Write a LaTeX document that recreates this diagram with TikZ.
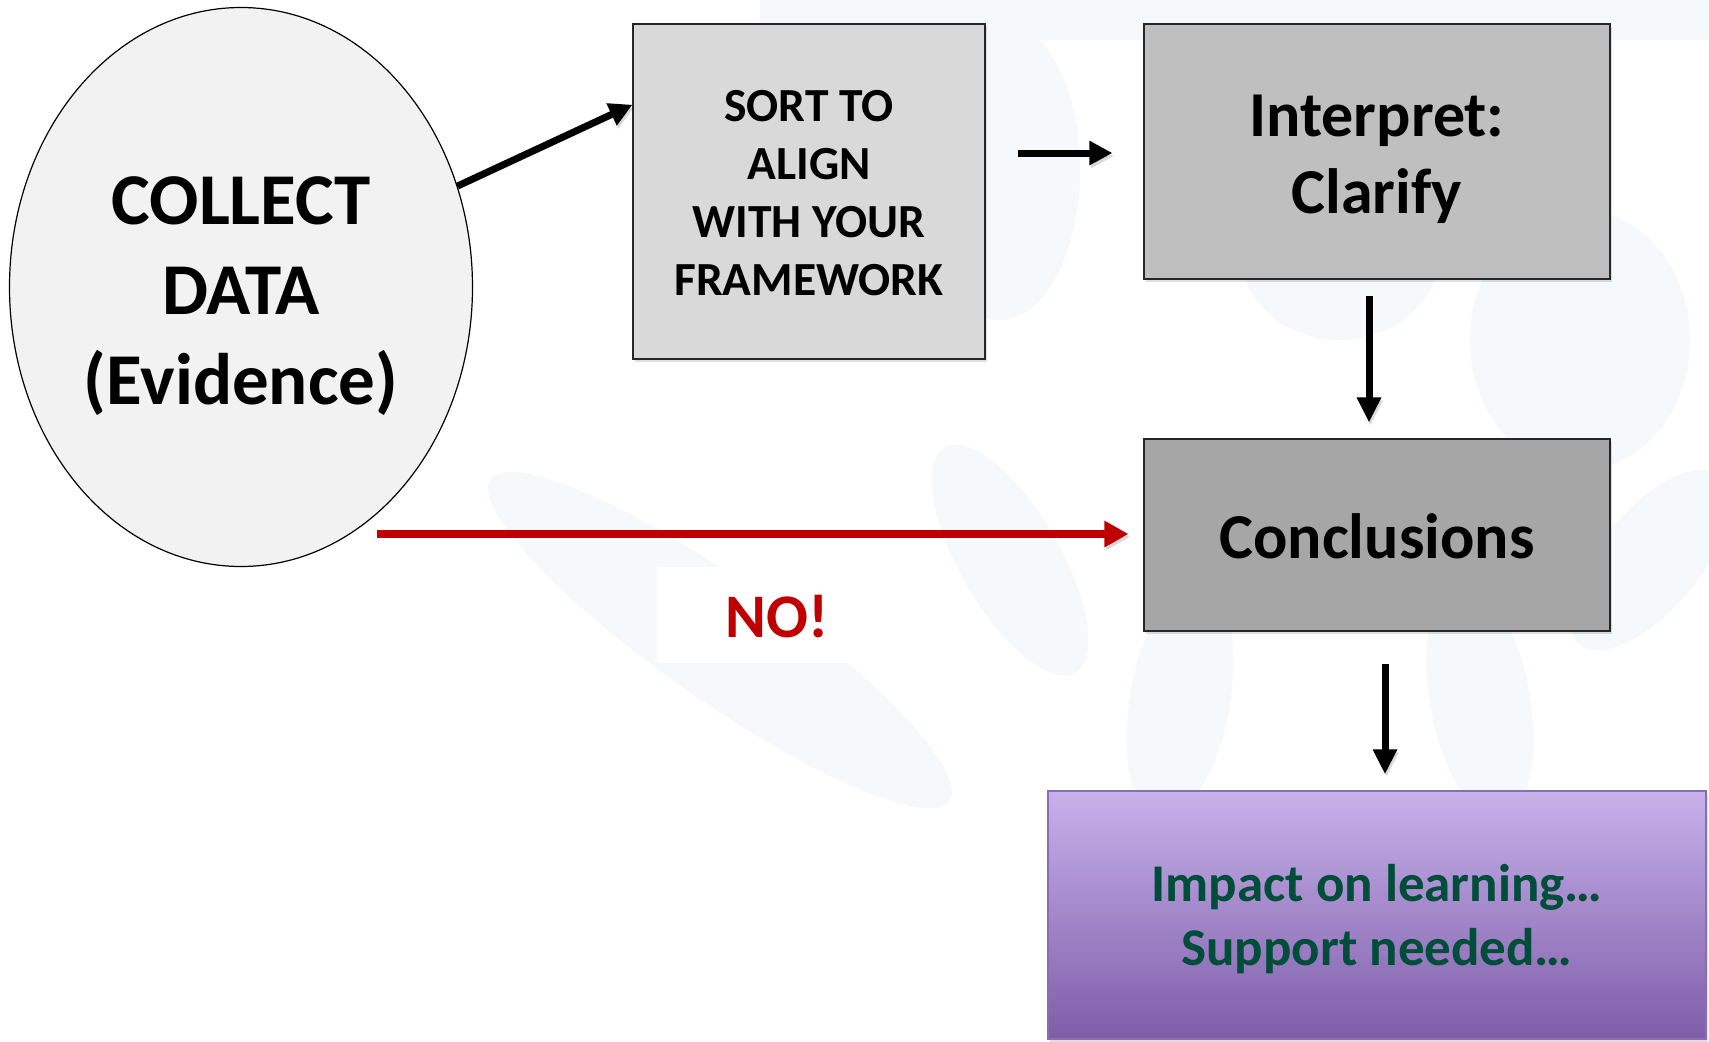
\documentclass[tikz,border=0pt]{standalone}
\usepackage{fontspec}
\setmainfont{Carlito}
\usetikzlibrary{arrows.meta,shapes.geometric,shadows,calc}
\definecolor{wm}{HTML}{F5F9FC}
\definecolor{ellfill}{HTML}{F2F2F2}
\definecolor{sortfill}{HTML}{D9D9D9}
\definecolor{intfill}{HTML}{BFBFBF}
\definecolor{confill}{HTML}{A6A6A6}
\definecolor{ptop}{HTML}{C7B1EB}
\definecolor{pbot}{HTML}{7E5DA8}
\definecolor{pborder}{HTML}{8A6FB0}
\definecolor{tgreen}{HTML}{004D3A}
\definecolor{nored}{HTML}{C00000}
\tikzset{
  box/.style={draw=black!85, line width=1.2pt, inner sep=0pt, align=center,
    font=\bfseries, drop shadow={opacity=0.25, shadow xshift=2pt, shadow yshift=-3pt}},
  arrshadow/.style={preaction={draw=black, opacity=0.15, transform canvas={xshift=1.5pt, yshift=-3pt}}},
  blackarrow/.style={arrshadow, line width=7pt, -{Triangle[length=23pt,width=23pt]}},
  thinarrow/.style={arrshadow, line width=7pt, -{Triangle[length=25pt,width=23pt]}},
  redarrow/.style={arrshadow, line width=8pt, nored, -{Triangle[length=24pt,width=25pt]}},
  wmshape/.style={fill=wm, draw=none},
  txt/.style={align=center, inner sep=0pt}
}
\begin{document}
\begin{tikzpicture}[x=1pt,y=-1pt]
\useasboundingbox (0,0) rectangle (1709,1042);
\fill[white] (0,0) rectangle (1709,1042);
% faint watermark
\fill[wmshape] (760,0) rectangle (1709,40);
\fill[wmshape] (1340,250) ellipse (100 and 90);
\fill[wmshape, rotate around={-35:(720,640)}] (720,640) ellipse (280 and 60);
\fill[wmshape, rotate around={-60:(1010,560)}] (1010,560) ellipse (130 and 50);
\fill[wmshape, rotate around={80:(1180,700)}] (1180,700) ellipse (120 and 50);
\fill[wmshape, rotate around={-80:(1480,700)}] (1480,700) ellipse (120 and 50);
\fill[wmshape, rotate around={50:(1650,560)}] (1650,560) ellipse (110 and 50);
\fill[wmshape] (1580,340) ellipse (110 and 130);
\fill[wmshape] (1000,170) ellipse (80 and 150);
% nodes
\node[ellipse, draw=black, line width=1.2pt, fill=ellfill, minimum width=463pt, minimum height=559pt,
      inner sep=0pt] (collect) at (241,287) {};
\node[txt, font=\bfseries\fontsize{73}{90}\selectfont] (collecttxt) at (241,296) {COLLECT\\DATA\\(Evidence)};
\node[box, fill=sortfill, minimum width=352pt, minimum height=335pt] (sort) at (809,191.5) {};
\node[txt, font=\bfseries\fontsize{47.5}{57.8}\selectfont] (sorttxt) at (809,193) {SORT TO\\ALIGN\\WITH YOUR\\FRAMEWORK};
\node[box, fill=intfill, minimum width=466pt, minimum height=255pt] (interp) at (1377,151.5) {};
\node[txt, font=\bfseries\fontsize{64}{77}\selectfont] (interptxt) at (1377,159) {Interpret:\\Clarify};
\node[box, fill=confill, minimum width=466pt, minimum height=192pt] (concl) at (1377,535) {};
\node[txt, font=\bfseries\fontsize{64}{77}\selectfont] (concltxt) at (1377,536) {Conclusions};
\node[draw=pborder, line width=1.5pt, top color=ptop, bottom color=pbot, inner sep=0pt,
      minimum width=658pt, minimum height=248pt,
      drop shadow={opacity=0.25, shadow xshift=2pt, shadow yshift=-3pt}]
  (impact) at (1377,915) {};
\node[txt, text=tgreen, font=\bfseries\fontsize{53}{64}\selectfont] (impacttxt) at (1377,919)
  {Impact on learning\dots\\Support needed\dots};
\node[fill=white, minimum width=196pt, minimum height=96pt, inner sep=0pt] (nobg) at (755,615) {};
\node[txt, text=nored, font=\bfseries\fontsize{62}{70}\selectfont] (no) at (777,617) {NO!};
\coordinate (redstart) at (377,534);
% connectors
\draw[blackarrow] (collect.25.6) -- ($(sort.north west)!0.242!(sort.south west)$);
\draw[blackarrow, shorten <=32pt, shorten >=31pt] ([yshift=-1.5pt]sort.east |- interp.west) -- ([yshift=-1.5pt]interp.west);
\draw[thinarrow, shorten <=16pt, shorten >=16pt] ([xshift=-8pt]interp.south) -- ([xshift=-8pt]concl.north);
\draw[thinarrow, shorten <=32pt, shorten >=16pt] ([xshift=8pt]concl.south) -- ([xshift=8pt]impact.north);
\draw[redarrow, shorten >=15pt] (redstart) -- (redstart -| concl.west);
\end{tikzpicture}
\end{document}
